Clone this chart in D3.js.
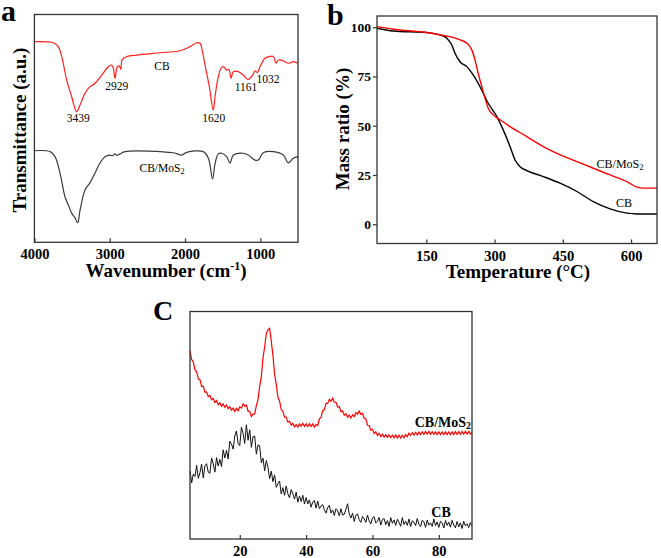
<!DOCTYPE html>
<html><head><meta charset="utf-8">
<script src="https://cdn.jsdelivr.net/npm/d3@7"></script>
<style>
body{margin:0;background:#fff}
svg{display:block}
text{font-family:"Liberation Serif","Times New Roman",serif;fill:#000}
</style>
</head><body>
<svg id="chart" width="661" height="558"></svg>
<script>
// ---------- Panel a: FTIR ----------
const ftirWnCB = [4000,3992,3749,3683,3637,3571,3505,3439,3394,3328,3284,3195,3106,3019,2974,2952,2929,2899,2872,2854,2832,2774,2641,2332,2066,1934,1845,1801,1765,1721,1677,1625,1602,1558,1522,1491,1447,1416,1389,1359,1292,1226,1161,1101,1071,1040,1004,938,871,827,792,761,695,628,562,500];
const ftirCB   = [88.1,88.1,87.6,85.9,81.5,71.2,63.9,57.3,60.3,65.4,67.6,69.8,73.4,77.1,77.8,76.4,72.0,77.1,77.4,75.9,80.3,81.5,82.2,83.2,84.1,85.9,87.6,87.4,83.0,75.6,68.3,58.0,63.9,72.7,76.4,77.1,75.6,75.9,72.0,74.9,74.9,73.4,71.5,73.4,75.3,74.5,77.1,80.8,81.6,81.6,78.6,80.0,79.7,78.6,79.3,78.6];
const ftirWnMo = [4000,3790,3726,3660,3594,3550,3505,3461,3425,3394,3328,3262,3195,3128,3062,2996,2960,2930,2900,2862,2796,2155,2044,1978,1757,1690,1634,1600,1558,1513,1447,1403,1359,1226,1160,1071,1027,961,827,695,629,562,500];
const ftirMo   = [40.2,39.8,37.6,30.4,20.0,16.4,12.8,10.7,8.6,14.1,23.0,26.1,30.4,34.9,37.6,38.3,38.0,38.8,38.2,38.8,39.8,39.3,38.3,39.5,39.8,36.9,27.8,34.8,38.8,39.1,37.6,34.7,38.3,39.1,38.3,36.1,36.1,39.3,39.8,38.3,34.9,36.9,37.6];
const ftirTicks = [4000,3000,2000,1000];
const peakLabels = ["3439","2929","1620","1161","1032"];
const peakLabelWn = [3417,2907,1618,1190,898];
const peakLabelV  = [52.6,66.9,53.0,66.6,69.9];

// ---------- Panel b: TGA ----------
const tgaTMo = [41.6,77,151,180,202,224,239,250,257,264,272,279,286,297,312,334,371,407,444,481,517,554,591,613,627,657];
const tgaMo  = [100.3,99,97.3,96.1,95.2,93.6,91.9,88.5,83.4,76.6,69.8,64,58.9,55.5,53,49.5,44.5,39.4,35.2,31.8,28.4,25,21.6,18.8,18.3,18.3];
const tgaTCB = [41.6,77,151,180,195,206,213,224,239,253,268,286,305,319,334,345,356,371,407,444,481,517,554,591,613,657];
const tgaCB  = [99.5,98.1,97.3,96.1,94.4,91,86.8,82.5,80,75.8,69.8,61.4,54.6,47.9,39.4,32.6,29.2,27.2,24.2,20.8,16.6,11.5,7.8,5.6,5.2,5.2];
const tgaXTicks = [150,300,450,600];
const tgaYTicks = [0,25,50,75,100];

// ---------- Panel c: XRD (2θ from 5 to 90, step 0.5) ----------
const xrdMo = [82.8,78.9,77.9,74.3,73.5,70.4,70.0,67.1,67.2,64.6,64.7,62.6,63.1,61.2,61.8,60.0,60.8,59.1,59.9,58.3,59.4,57.9,58.9,57.3,58.2,56.6,57.5,56.1,57.4,56.4,58.1,57.6,59.4,58.4,58.9,56.2,56.0,53.9,54.9,55.0,58.6,61.4,67.1,71.4,79.6,84.4,90.4,91.8,92.6,87.0,80.6,72.4,68.1,62.4,60.6,56.9,56.1,53.6,53.6,51.4,51.7,50.0,50.8,49.3,50.3,49.2,50.6,49.6,50.8,49.5,50.6,49.4,50.7,49.5,50.6,49.2,50.3,49.9,52.8,53.4,56.4,56.9,59.6,59.6,61.4,60.6,61.9,60.1,60.1,58.0,58.2,56.0,56.3,54.4,55.1,53.5,54.5,53.2,54.6,53.8,55.6,54.8,56.2,54.8,55.2,53.0,52.8,50.0,49.9,47.8,48.2,46.4,47.1,45.5,46.4,45.0,46.1,44.8,45.9,44.7,45.8,44.6,45.7,44.5,45.7,44.4,45.6,44.4,45.6,44.5,45.9,45.0,46.5,45.5,46.8,45.7,46.9,45.8,47.0,45.9,47.1,46.0,47.3,46.1,47.3,46.0,47.2,46.0,47.1,45.9,47.1,45.9,47.1,45.9,47.1,45.9,47.1,45.9,47.1,45.9,47.2,46.0,47.2,46.0,47.3,46.1,47.3,46.1,47.3,46.1,46.9];
const xrdCB = [29.9,24.7,28.6,27.5,32.4,26.7,29.1,32.9,26.8,32.2,
  33.1,29.4,28.8,35.6,33.0,29.4,35.8,32.1,35.0,31.8,
  39.2,35.6,39.0,35.2,43.0,41.7,39.5,45.3,47.5,42.0,
  41.0,49.2,46.4,42.0,50.2,43.4,48.0,40.3,45.0,45.2,
  37.3,41.4,41.0,33.5,35.5,30.0,34.5,31.5,26.5,29.8,
  25.2,28.2,22.7,24.3,25.5,19.8,22.6,19.2,23.3,19.9,
  18.1,21.7,19.9,17.5,20.6,16.2,18.9,16.5,19.2,15.4,
  18.2,15.4,17.2,14.0,16.3,16.9,13.6,16.7,13.3,14.5,
  15.1,12.9,11.4,13.8,14.8,11.4,12.8,10.3,13.3,12.4,
  10.2,13.3,10.5,10.9,13.1,15.5,11.0,9.2,11.4,7.7,
  10.5,11.0,8.5,7.3,9.9,8.9,7.3,10.5,8.0,6.6,
  9.3,9.9,7.0,7.8,9.5,6.1,8.6,9.0,6.3,8.1,
  5.6,9.4,6.9,8.4,6.0,8.7,7.3,5.6,9.4,6.4,
  7.8,6.0,8.8,5.5,8.0,7.4,5.9,9.0,6.5,5.4,
  8.2,7.6,5.1,8.3,6.1,7.1,5.5,8.8,5.8,7.5,
  5.1,7.8,7.1,4.8,8.1,6.0,7.4,5.2,8.2,6.1,
  4.9,7.7,5.3,7.1,4.6,7.8,5.8,6.7,5.0,7.2,5.7];
const xrdTicks = [20,40,60,80];

const svg = d3.select("#chart");
const FRAME = "#333";

function frame(x0,x1,y0,y1){
  svg.append("rect").attr("x",x0).attr("y",y0).attr("width",x1-x0).attr("height",y1-y0)
    .attr("fill","none").attr("stroke",FRAME).attr("stroke-width",1.3);
}
function styleAxis(g, size){
  g.attr("font-family",null);
  g.select(".domain").remove();
  g.selectAll(".tick line").attr("stroke",FRAME).attr("stroke-width",1.2);
  g.selectAll(".tick text").style("font-family","'Liberation Serif', serif").attr("font-weight","bold")
    .attr("font-size",size).attr("fill","#000");
}
function subLabel(x,y,size,bold,anchor){
  const t = svg.append("text").attr("x",x).attr("y",y).attr("font-size",size)
    .attr("text-anchor",anchor||"middle").attr("font-weight",bold?"bold":"normal");
  t.append("tspan").text("CB/MoS");
  t.append("tspan").text("2").attr("font-size",size*0.7).attr("dy",size*0.18);
  return t;
}

// ===== Panel a =====
{
  const L=34.4,R=298,T=14.5,B=242.3;
  const x = d3.scaleLinear().domain([4000,500]).range([L,R]);
  const y = d3.scaleLinear().domain([0,100]).range([B,T]);
  const line = d3.line().x(d=>x(d[0])).y(d=>y(d[1])).curve(d3.curveCatmullRom.alpha(0.5));
  svg.append("path").datum(d3.zip(ftirWnMo,ftirMo)).attr("d",line)
    .attr("fill","none").attr("stroke","#3a3a3a").attr("stroke-width",1.2);
  svg.append("path").datum(d3.zip(ftirWnCB,ftirCB)).attr("d",line)
    .attr("fill","none").attr("stroke","#ff2020").attr("stroke-width",1.2);
  frame(L,R,T,B);
  const ax = svg.append("g").attr("transform",`translate(0,${B})`)
    .call(d3.axisBottom(x).tickValues(ftirTicks).tickSize(-4).tickPadding(6.7).tickFormat(d3.format("d")));
  styleAxis(ax,14.5);
  peakLabels.forEach((lab,i)=>{
    svg.append("text").attr("x",x(peakLabelWn[i])).attr("y",y(peakLabelV[i])).attr("text-anchor","middle")
      .attr("font-size",11.5).text(lab);
  });
  svg.append("text").attr("x",162).attr("y",70).attr("text-anchor","middle").attr("font-size",11.5).text("CB");
  subLabel(162,171.5,11.5,false);
  svg.append("text").attr("transform",`translate(26,130) rotate(-90)`).attr("text-anchor","middle")
    .attr("font-size",19).attr("font-weight","bold").text("Transmittance (a.u.)");
  const tt = svg.append("text").attr("x",166).attr("y",277.3).attr("text-anchor","middle")
    .attr("font-size",19).attr("font-weight","bold");
  tt.append("tspan").text("Wavenumber (cm");
  tt.append("tspan").text("-1").attr("font-size",12).attr("dy",-7);
  tt.append("tspan").text(")").attr("dy",7);
  svg.append("text").attr("x",1).attr("y",21).attr("font-size",30).attr("font-weight","bold").text("a");
}

// ===== Panel b =====
{
  const L=377,R=657,T=16,B=243.5;
  const x = d3.scaleLinear().domain([41.6,657]).range([L,R]);
  const y = d3.scaleLinear().domain([-9.8,105.7]).range([B,T]);
  const line = d3.line().x(d=>x(d[0])).y(d=>y(d[1])).curve(d3.curveMonotoneX);
  svg.append("path").datum(d3.zip(tgaTCB,tgaCB)).attr("d",line)
    .attr("fill","none").attr("stroke","#000").attr("stroke-width",1.4);
  svg.append("path").datum(d3.zip(tgaTMo,tgaMo)).attr("d",line)
    .attr("fill","none").attr("stroke","#ff0000").attr("stroke-width",1.4);
  frame(L,R,T,B);
  const ax = svg.append("g").attr("transform",`translate(0,${B})`)
    .call(d3.axisBottom(x).tickValues(tgaXTicks).tickSize(-4).tickPadding(6.9));
  styleAxis(ax,14.5);
  const ay = svg.append("g").attr("transform",`translate(${L},0)`)
    .call(d3.axisLeft(y).tickValues(tgaYTicks).tickSize(4).tickPadding(2));
  styleAxis(ay,13.5);
  subLabel(620,168,12,false);
  svg.append("text").attr("x",624).attr("y",206.5).attr("text-anchor","middle").attr("font-size",12).text("CB");
  svg.append("text").attr("transform",`translate(349,129) rotate(-90)`).attr("text-anchor","middle")
    .attr("font-size",19).attr("font-weight","bold").text("Mass ratio (%)");
  svg.append("text").attr("x",518).attr("y",278).attr("text-anchor","middle")
    .attr("font-size",19).attr("font-weight","bold").text("Temperature (\u00B0C)");
  svg.append("text").attr("x",327).attr("y",25).attr("font-size",30).attr("font-weight","bold").text("b");
}

// ===== Panel c =====
{
  const L=190,R=472,T=311.5,B=539;
  const x = d3.scaleLinear().domain([5,90]).range([L,R]);
  const y = d3.scaleLinear().domain([0,100]).range([B,T]);
  const angles = d3.range(0,171).map(i=>5+i*0.5);
  const line = d3.line().x(d=>x(d[0])).y(d=>y(d[1]));
  svg.append("path").datum(d3.zip(angles,xrdCB)).attr("d",line)
    .attr("fill","none").attr("stroke","#111").attr("stroke-width",1);
  svg.append("path").datum(d3.zip(angles,xrdMo)).attr("d",line)
    .attr("fill","none").attr("stroke","#ff0000").attr("stroke-width",1.2);
  frame(L,R,T,B);
  const ax = svg.append("g").attr("transform",`translate(0,${B})`)
    .call(d3.axisBottom(x).tickValues(xrdTicks).tickSize(-4).tickPadding(7.2));
  styleAxis(ax,14.5);
  subLabel(471,426.5,14,true,"end");
  svg.append("text").attr("x",441).attr("y",516.5).attr("text-anchor","middle").attr("font-size",14)
    .attr("font-weight","bold").text("CB");
  svg.append("text").attr("x",153).attr("y",320).attr("font-size",28).attr("font-weight","bold").text("C");
}
</script>
</body></html>
